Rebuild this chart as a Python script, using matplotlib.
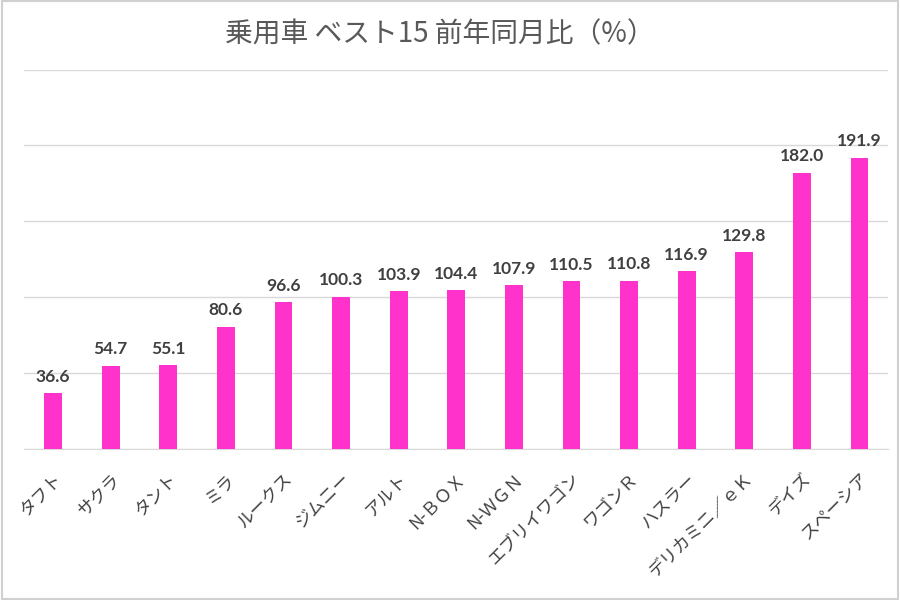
import matplotlib
matplotlib.use("Agg")
import matplotlib.pyplot as plt
from matplotlib.patches import Rectangle

plt.rcParams['font.family'] = ['Noto Sans CJK JP', 'DejaVu Sans']

categories = ["タフト", "サクラ", "タント", "ミラ", "ルークス", "ジムニー", "アルト",
              "N-ＢＯＸ", "N-ＷＧＮ", "エブリイワゴン", "ワゴンＲ", "ハスラー",
              "デリカミニ／ｅＫ", "デイズ", "スペーシア"]
values = [36.6, 54.7, 55.1, 80.6, 96.6, 100.3, 103.9, 104.4, 107.9, 110.5,
          110.8, 116.9, 129.8, 182.0, 191.9]
title = "乗用車 ベスト15 前年同月比（%）"

fig = plt.figure(figsize=(9, 6), dpi=100)
ax = fig.add_axes([0.027, 0.252, 0.96, 0.632])

x = range(len(categories))
ax.bar(x, values, width=0.31, color="#FF33CC", zorder=3)
for xi, v in zip(x, values):
    ax.annotate(f"{v:.1f}", (xi, v), xytext=(0, 6), textcoords="offset points",
                ha="center", va="bottom", fontsize=12.5, fontweight="bold",
                color="#404040", family=["Lato", "DejaVu Sans"])

ax.set_xlim(-0.5, len(categories) - 0.5)
ax.set_ylim(0, 250)
ax.set_yticks([0, 50, 100, 150, 200, 250])
ax.set_yticklabels([])
ax.tick_params(axis="y", length=0)
ax.tick_params(axis="x", length=0, pad=15)
ax.grid(axis="y", color="#d9d9d9", linewidth=1, zorder=0)
for s in ["top", "right", "left"]:
    ax.spines[s].set_visible(False)
ax.spines["bottom"].set_color("#d9d9d9")

ax.set_xticks(list(x))
ax.set_xticklabels(categories, rotation=45, ha="right", rotation_mode="anchor",
                   fontsize=12.5, color="#404040")

fig.text(0.489, 0.943, title, ha="center", va="center", fontsize=20, color="#595959")

fig.patches.append(Rectangle((0.002, 0.002), 0.996, 0.996, transform=fig.transFigure,
                             fill=False, edgecolor="#d0d0d0", linewidth=1.5))

fig.savefig("out.png", dpi=100)
